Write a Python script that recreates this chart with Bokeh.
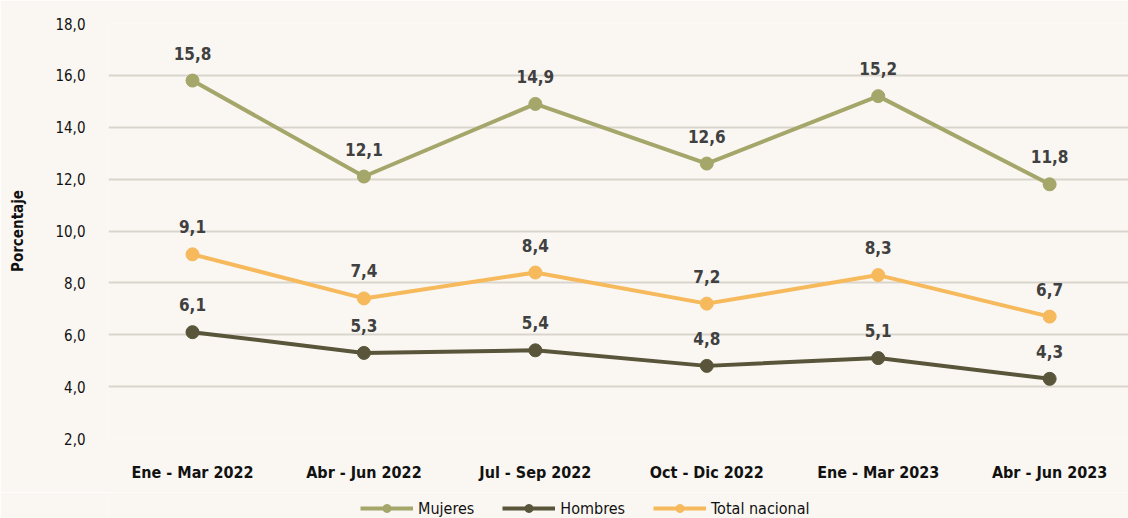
from bokeh.plotting import figure
from bokeh.layouts import column
from bokeh.models import Range1d, FixedTicker, Legend, LegendItem
from bokeh.core.properties import value
from bokeh.embed import file_html
from bokeh.resources import INLINE

categories = ["Ene - Mar 2022", "Abr - Jun 2022", "Jul - Sep 2022",
              "Oct - Dic 2022", "Ene - Mar 2023", "Abr - Jun 2023"]
mujeres = [15.8, 12.1, 14.9, 12.6, 15.2, 11.8]
hombres = [6.1, 5.3, 5.4, 4.8, 5.1, 4.3]
total = [9.1, 7.4, 8.4, 7.2, 8.3, 6.7]
y_ticks = [2, 4, 6, 8, 10, 12, 14, 16, 18]
y_tick_labels = ["2,0", "4,0", "6,0", "8,0", "10,0", "12,0", "14,0", "16,0", "18,0"]

FONT = "'Liberation Sans Narrow', 'DejaVu Sans Condensed', 'Roboto', sans-serif"
BG = "#faf7f2"
xs = list(range(len(categories)))

p = figure(width=1128, height=492, output_backend="svg", toolbar_location=None,
           x_range=Range1d(-0.49, 5.46), y_range=Range1d(2, 18),
           min_border_left=108, min_border_right=0, min_border_top=23,
           min_border_bottom=54, background_fill_color=BG, border_fill_color=BG)
p.outline_line_color = None

p.xaxis.ticker = FixedTicker(ticks=xs)
p.xaxis.major_label_overrides = {i: c for i, c in enumerate(categories)}
p.yaxis.ticker = FixedTicker(ticks=y_ticks)
p.yaxis.major_label_overrides = {t: l for t, l in zip(y_ticks, y_tick_labels)}

for ax in (p.xaxis[0], p.yaxis[0]):
    ax.axis_line_color = None
    ax.major_tick_line_color = None
    ax.minor_tick_line_color = None
    ax.major_label_text_font = FONT
    ax.major_label_text_color = "#111111"

p.xaxis.major_label_text_font_size = "16px"
p.xaxis.major_label_text_font_style = "bold"
p.xaxis.major_label_standoff = 18
p.yaxis.major_label_text_font_size = "15px"
p.yaxis.major_label_standoff = 17
p.yaxis.axis_label = "Porcentaje"
p.yaxis.axis_label_text_font = FONT
p.yaxis.axis_label_text_font_size = "15px"
p.yaxis.axis_label_text_font_style = "bold"
p.yaxis.axis_label_text_color = "#111111"
p.yaxis.axis_label_standoff = 25

p.xgrid.grid_line_color = None
p.ygrid.grid_line_color = "#d9d5cd"
p.ygrid.grid_line_width = 2

series = [("Mujeres", mujeres, "#a4a66a"),
          ("Hombres", hombres, "#59553a"),
          ("Total nacional", total, "#f6b95c")]

# legend strip below the chart (its own renderers lie outside its visible range)
lg = figure(width=1128, height=26, output_backend="svg", toolbar_location=None,
            x_axis_location=None, y_axis_location=None,
            x_range=Range1d(0, 1), y_range=Range1d(0, 1),
            min_border=0, background_fill_color=BG, border_fill_color=BG)
lg.outline_line_color = None
lg.grid.grid_line_color = None

items = []
for name, vals, col in series:
    p.line(xs, vals, line_color=col, line_width=4)
    p.scatter(xs, vals, size=13, fill_color=col, line_color=col)
    labels = [f"{v:.1f}".replace(".", ",") for v in vals]
    p.text(xs, vals, text=labels, text_align="center", text_baseline="bottom",
           y_offset=-21, text_font=value(FONT), text_font_size="17px",
           text_font_style="bold", text_color="#404040")
    lln = lg.line(xs, vals, line_color=col, line_width=4)
    lsc = lg.scatter(xs, vals, size=10, fill_color=col, line_color=col)
    items.append(LegendItem(label=name, renderers=[lln, lsc]))

legend = Legend(items=items, orientation="horizontal", location=(252, 0),
                background_fill_alpha=0, border_line_color=None,
                label_text_font=FONT, label_text_font_size="16px",
                label_text_color="#111111", glyph_width=53, glyph_height=20,
                label_height=20, padding=0, margin=0, spacing=28,
                label_standoff=5)
lg.add_layout(legend, "center")

layout = column(p, lg, spacing=0)
html = file_html(layout, INLINE)
html = html.replace("<body>", '<body style="background:%s">' % BG, 1)
open("out.html", "w").write(html)
